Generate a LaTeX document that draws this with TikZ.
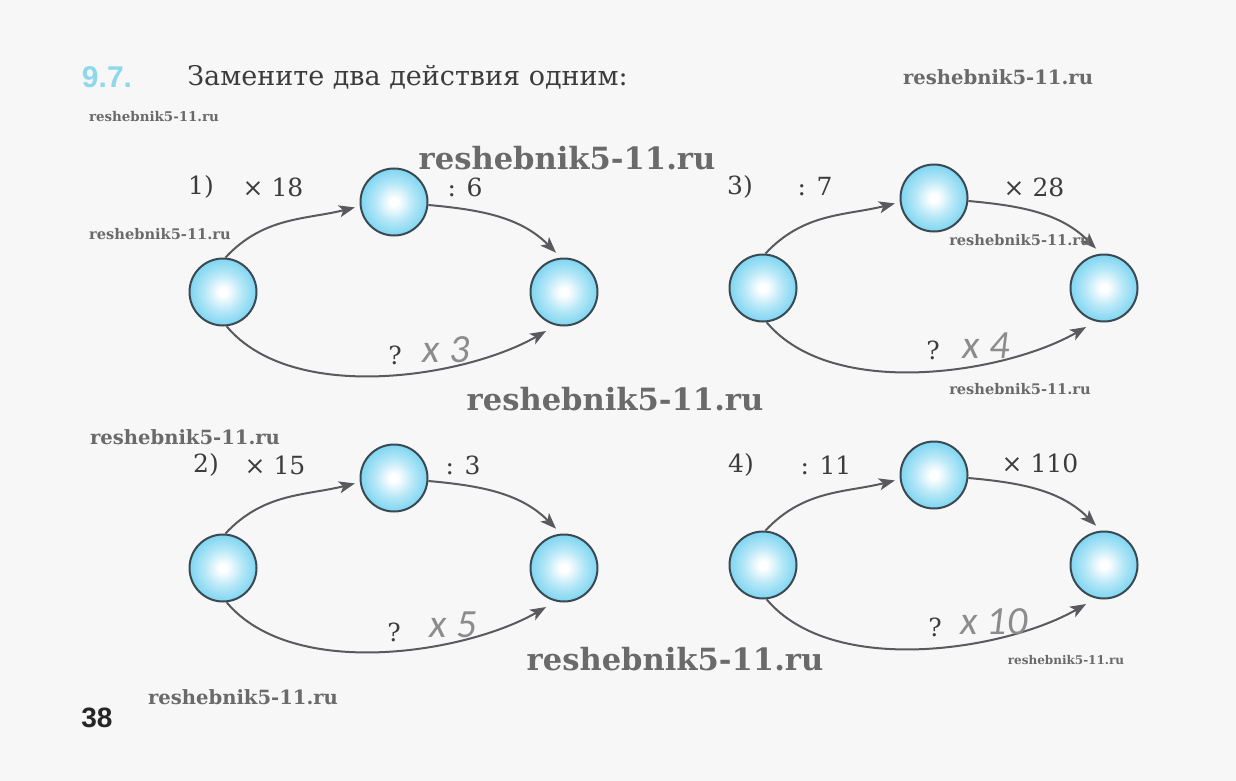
\documentclass[tikz,border=0pt]{standalone}
\usepackage{fontspec}
\setmainfont{DejaVu Serif}
\setsansfont{Liberation Sans}
\newfontfamily\handfont{Carlito}
\newfontfamily\markfont{DejaVu Serif}
\usetikzlibrary{arrows.meta}
\definecolor{Bc}{HTML}{5FCBEE}
\definecolor{Ec}{HTML}{3B4A52}
\definecolor{Ac}{HTML}{5A5A5E}
\definecolor{Tc}{HTML}{3C3C3C}
\definecolor{Hc}{HTML}{8C8C8C}
\definecolor{Wc}{HTML}{6A6A6A}
\definecolor{Nc}{HTML}{8ED8EE}
\definecolor{paper}{HTML}{F7F7F7}
\pgfdeclareradialshading{bead}{\pgfpoint{0bp}{0bp}}{color(0bp)=(white); color(3bp)=(white); color(14bp)=(Bc!45!white); color(28bp)=(Bc!90!white); color(42bp)=(Bc); color(50bp)=(Bc!88!black)}
\tikzset{
  ball/.style={circle, draw=Ec, line width=1pt, shading=bead, minimum size=33.5pt, inner sep=0pt},
  link/.style={-{Stealth[length=8pt,width=6pt,inset=2pt]}, draw=Ac, line width=1pt},
  op/.style={text=Tc, font=\fontsize{12.5}{14}\selectfont, inner sep=0pt},
  hand/.style={text=Hc, font=\handfont\itshape\fontsize{20}{22}\selectfont, inner sep=0pt},
  wm/.style={text=Wc, font=\markfont\bfseries\fontsize{#1}{#1}\selectfont, inner sep=0pt},
}
\newcommand{\chain}[3]{%
  \node[ball] (#1L) at (#2,-#3) {};
  \node[ball] (#1T) at (#2+171,-#3+90) {};
  \node[ball] (#1R) at (#2+341,-#3) {};
  \draw[link, shorten >=2.5pt] (#1L.86) to[out=47, in=194] (#1T.187);
  \draw[link, shorten >=3.5pt] (#1T.-5) to[out=-5, in=135] (#1R.95);
  \draw[link, shorten >=5.5pt, looseness=0.8] (#1L.-84) to[out=-50, in=210] (#1R.256);}

\begin{document}
\begin{tikzpicture}[x=0.5pt, y=0.5pt]
  \fill[paper] (0,0) rectangle (1236,-781);
  \useasboundingbox (0,0) rectangle (1236,-781);
  \node[text=Nc, font=\sffamily\bfseries\fontsize{15}{16}\selectfont, inner sep=0pt] (num) at (107,-77) {9.7.};
  \node[text=Tc, font=\fontsize{13.5}{16}\selectfont, inner sep=0pt, anchor=west] (task) at (187,-77) {Замените два действия одним:};
  \chain{p}{223}{292}
  \chain{q}{223}{568}
  \chain{r}{763}{288}
  \chain{s}{763}{565}
  \node[op] (n1) at (201,-187) {1)};
  \node[op] (a1) at (273,-187) {× 18};
  \node[op] (b1) at (465,-187) {: 6};
  \node[op] (k1) at (395,-355) {?};
  \node[hand] (h1) at (446,-350) {x 3};
  \node[op] (n2) at (206,-465) {2)};
  \node[op] (a2) at (275,-465) {× 15};
  \node[op] (b2) at (463,-465) {: 3};
  \node[op] (k2) at (394,-632) {?};
  \node[hand] (h2) at (453,-625) {x 5};
  \node[op] (n3) at (740,-187) {3)};
  \node[op] (a3) at (815,-187) {: 7};
  \node[op] (b3) at (1034,-187) {× 28};
  \node[op] (k3) at (933,-350) {?};
  \node[hand] (h3) at (986,-346) {x 4};
  \node[op] (n4) at (741,-465) {4)};
  \node[op] (a4) at (826,-465) {: 11};
  \node[op] (b4) at (1040,-463) {× 110};
  \node[op] (k4) at (935,-627) {?};
  \node[hand] (h4) at (994,-622) {x 10};
  \node[wm=9.8] (w1) at (998,-77) {reshebnik5-11.ru};
  \node[wm=6.7] (w2) at (154,-117) {reshebnik5-11.ru};
  \node[wm=15.3] (w3) at (567,-158) {reshebnik5-11.ru};
  \node[wm=7.3] (w4) at (160,-234) {reshebnik5-11.ru};
  \node[wm=7.3] (w5) at (1020,-240) {reshebnik5-11.ru};
  \node[wm=15.3] (w6) at (615,-399) {reshebnik5-11.ru};
  \node[wm=7.3] (w7) at (1020,-389) {reshebnik5-11.ru};
  \node[wm=9.8] (w8) at (185,-437) {reshebnik5-11.ru};
  \node[wm=15.3] (w9) at (675,-659) {reshebnik5-11.ru};
  \node[wm=6] (w10) at (1066,-660) {reshebnik5-11.ru};
  \node[wm=9.8] (w11) at (243,-697) {reshebnik5-11.ru};
  \node[text=black!85, font=\sffamily\bfseries\fontsize{14}{15}\selectfont, inner sep=0pt] (page) at (97,-718) {38};
\end{tikzpicture}
\end{document}
